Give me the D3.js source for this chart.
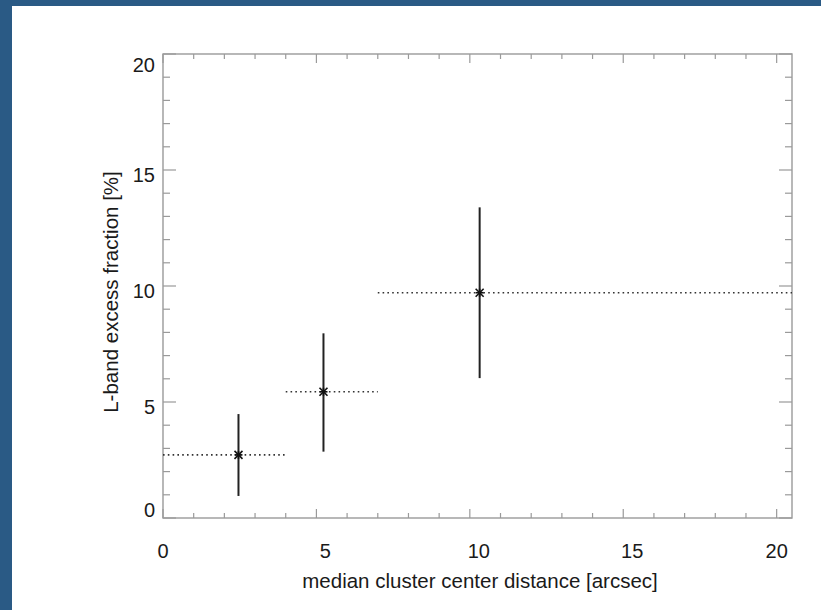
<!DOCTYPE html>
<html>
<head>
<meta charset="utf-8">
<script src="https://cdn.jsdelivr.net/npm/d3@7"></script>
<style>
  body { margin: 0; background: #2a5a85; }
  svg { display: block; }
  text { font-family: "Liberation Sans", Arial, sans-serif; fill: #1a1a1a; }
</style>
</head>
<body>
<script>
// data
const xCenters = [2.46, 5.23, 10.32];
const yValues  = [2.72, 5.44, 9.71];
const yLow     = [0.95, 2.86, 6.03];
const yHigh    = [4.48, 7.96, 13.39];
const binLow   = [0, 4, 7];
const binHigh  = [4, 7, 20.5];
const xTicks = [0, 5, 10, 15, 20];
const yTicks = [0, 5, 10, 15, 20];

const W = 821, H = 610;
const plot = { left: 163, right: 792, top: 54, bottom: 518 };

const svg = d3.select("body").append("svg")
    .attr("width", W).attr("height", H);

// white panel inside the blue border
svg.append("rect").attr("x", 12).attr("y", 6)
    .attr("width", W - 12).attr("height", H - 6).attr("fill", "#fff");

const x = d3.scaleLinear().domain([0, 20.5]).range([plot.left, plot.right]);
const y = d3.scaleLinear().domain([0, 20]).range([plot.bottom, plot.top]);

const frameColor = "#9a9a9a";

// minor + major ticks on all four sides
const xMinor = d3.range(0, 21, 1);
const yMinor = d3.range(0, 21, 1);
const g = svg.append("g").attr("stroke", frameColor).attr("stroke-width", 1.2);

xMinor.forEach(v => {
    const len = v % 5 === 0 ? 9 : 5;
    g.append("line").attr("x1", x(v)).attr("x2", x(v))
        .attr("y1", plot.bottom).attr("y2", plot.bottom - len);
    g.append("line").attr("x1", x(v)).attr("x2", x(v))
        .attr("y1", plot.top).attr("y2", plot.top + len);
});
yMinor.forEach(v => {
    const len = v % 5 === 0 ? 13 : 7;
    g.append("line").attr("y1", y(v)).attr("y2", y(v))
        .attr("x1", plot.left).attr("x2", plot.left + len);
    g.append("line").attr("y1", y(v)).attr("y2", y(v))
        .attr("x1", plot.right).attr("x2", plot.right - len);
});

svg.append("rect")
    .attr("x", plot.left).attr("y", plot.top)
    .attr("width", plot.right - plot.left).attr("height", plot.bottom - plot.top)
    .attr("fill", "none").attr("stroke", frameColor).attr("stroke-width", 1.4);

// tick labels (interior ones sit a little off the tick, as in the original)
const xLabelShift = d => (d === 0 || d === 20) ? 0 : 9;
svg.selectAll(".xl").data(xTicks).enter().append("text")
    .attr("x", d => x(d) + xLabelShift(d)).attr("y", 558)
    .attr("text-anchor", "middle").attr("font-size", 20)
    .text(d => d);

const yLabelShift = d => d === 20 ? 11 : d === 0 ? -8 : 4.5;
svg.selectAll(".yl").data(yTicks).enter().append("text")
    .attr("x", 155).attr("y", d => y(d) + yLabelShift(d) + 7)
    .attr("text-anchor", "end").attr("font-size", 20)
    .text(d => d);

// axis titles
svg.append("text")
    .attr("x", 480).attr("y", 588)
    .attr("text-anchor", "middle").attr("font-size", 20.5)
    .text("median cluster center distance [arcsec]");

svg.append("text")
    .attr("transform", `translate(118, ${(plot.top + plot.bottom) / 2 + 6}) rotate(-90)`)
    .attr("text-anchor", "middle").attr("font-size", 20.5)
    .text("L-band excess fraction [%]");

const pts = xCenters.map((d, i) => ({
    x: d, y: yValues[i], lo: yLow[i], hi: yHigh[i], b0: binLow[i], b1: binHigh[i]
}));

// dotted bin extents
svg.selectAll(".bin").data(pts).enter().append("line")
    .attr("x1", d => x(d.b0)).attr("x2", d => x(d.b1))
    .attr("y1", d => y(d.y)).attr("y2", d => y(d.y))
    .attr("stroke", "#333").attr("stroke-width", 1.6)
    .attr("stroke-dasharray", "1.6,3.2");

// vertical error bars
svg.selectAll(".err").data(pts).enter().append("line")
    .attr("x1", d => x(d.x)).attr("x2", d => x(d.x))
    .attr("y1", d => y(d.lo)).attr("y2", d => y(d.hi))
    .attr("stroke", "#222").attr("stroke-width", 2);

// asterisk markers
const s = 4;
pts.forEach(d => {
    const cx = x(d.x), cy = y(d.y);
    const m = svg.append("g").attr("stroke", "#111").attr("stroke-width", 1.6);
    m.append("line").attr("x1", cx - s).attr("x2", cx + s).attr("y1", cy - s).attr("y2", cy + s);
    m.append("line").attr("x1", cx - s).attr("x2", cx + s).attr("y1", cy + s).attr("y2", cy - s);
    m.append("line").attr("x1", cx - s).attr("x2", cx + s).attr("y1", cy).attr("y2", cy);
    m.append("line").attr("x1", cx).attr("x2", cx).attr("y1", cy - s).attr("y2", cy + s);
});
</script>
</body>
</html>
